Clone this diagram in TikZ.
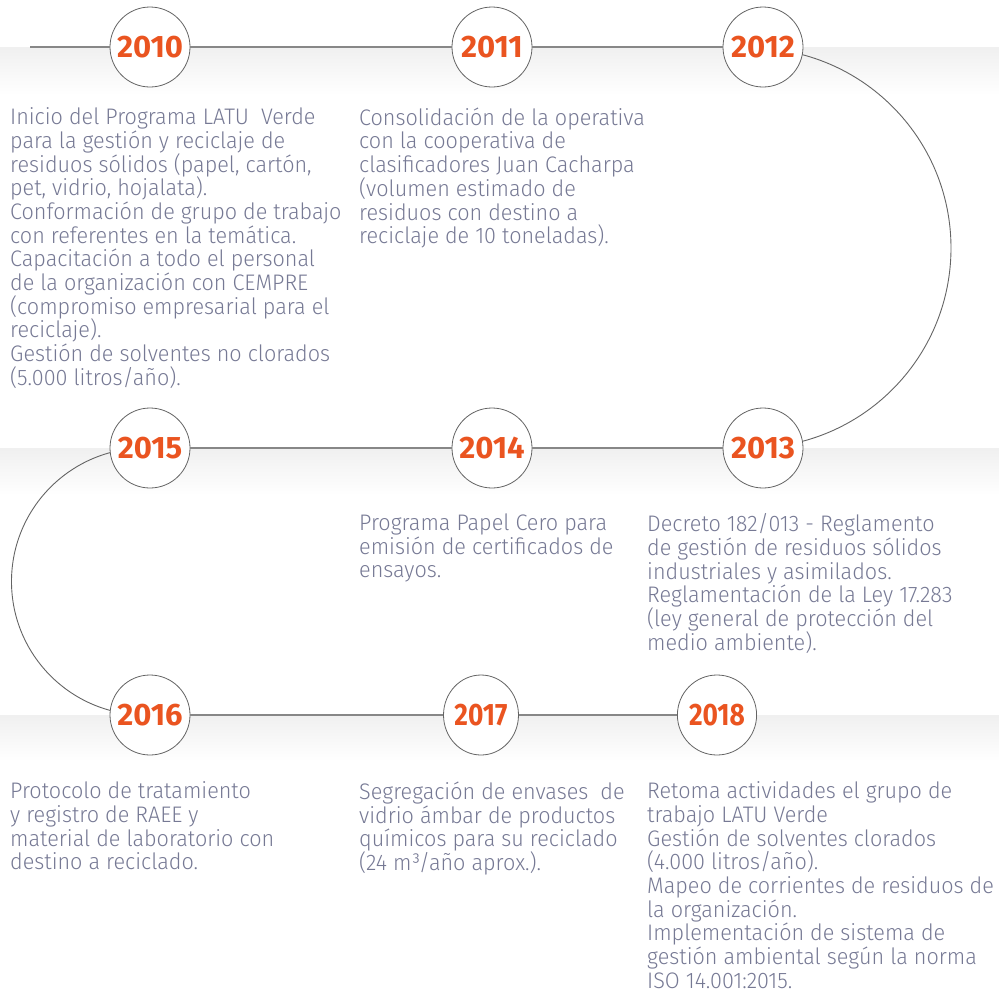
\documentclass[tikz,border=0pt]{standalone}
\usepackage{fontspec}
\setmainfont{Fira Sans}[UprightFont=* Light, FakeStretch=0.96]
\newfontfamily\yearfont{Fira Sans}[UprightFont=* Bold]
\usetikzlibrary{shapes.geometric,backgrounds}
\definecolor{yearorange}{RGB}{234,84,32}
\definecolor{txtgray}{RGB}{118,121,148}
\definecolor{linegray}{RGB}{135,135,135}
\definecolor{ringgray}{RGB}{100,100,100}
\begin{document}
\begin{tikzpicture}[x=1pt,y=-1pt,
    yearring/.style={circle, draw=ringgray, line width=0.8pt, fill=white, minimum size=80pt, inner sep=0pt, font=\yearfont\fontsize{31}{31}\selectfont, text=yearorange},
    yearoval/.style={yearring, ellipse, minimum width=70pt, minimum height=80pt},
    entry/.style={anchor=north west, inner sep=0pt, align=left, text=txtgray, font=\fontsize{22.5}{23.7}\selectfont},
    rowline/.style={draw=linegray, line width=1.3pt},
    arcline/.style={draw=ringgray, line width=0.9pt},
    band/.style={top color=black!6, bottom color=white}]
    \useasboundingbox (0,0) rectangle (999,991);

    \node[yearring] (y2010) at (150,47) {2010};
    \node[yearring] (y2011) at (492,47) {2011};
    \node[yearring] (y2012) at (763,47) {2012};
    \node[yearring] (y2013) at (763,448) {2013};
    \node[yearring] (y2014) at (492,448) {2014};
    \node[yearring] (y2015) at (150,448) {2015};
    \node[yearring] (y2016) at (150,715) {2016};
    \node[yearoval] (y2017) at (481,715) {\scalebox{0.85}[1]{2017}};
    \node[yearoval] (y2018) at (717,715) {\scalebox{0.85}[1]{2018}};

    \coordinate (start) at (30,47);
    \coordinate (arcR) at (751,48);
    \coordinate (arcL) at (145,448);

    \begin{scope}[on background layer]
        \fill[band] (0,47) rectangle (999,95);
        \fill[band] (0,448) rectangle (999,495);
        \fill[band] (0,715) rectangle (999,761);
        \draw[arcline] (arcR) arc[start angle=-90, end angle=90, radius=200];
        \draw[arcline] (arcL) arc[start angle=-90, end angle=-270, radius=133.5];
    \end{scope}

    \draw[rowline] (start) -- (y2010) -- (y2011) -- (y2012);
    \draw[rowline] (y2015) -- (y2014) -- (y2013);
    \draw[rowline] (y2016) -- (y2017) -- (y2018);

    \node[entry] (t2010) at (10,107.5) {Inicio del Programa LATU~ Verde\\ para la gestión y reciclaje de\\ residuos sólidos (papel, cartón,\\ pet, vidrio, hojalata).\\ Conformación de grupo de trabajo\\ con referentes en la temática.\\ Capacitación a todo el personal\\ de la organización con CEMPRE\\ (compromiso empresarial para el\\ reciclaje).\\ Gestión de solventes no clorados\\ (5.000 litros/año).};
    \node[entry] (t2011) at (359,107.5) {Consolidación de la operativa\\ con la cooperativa de\\ clasificadores Juan Cacharpa\\ (volumen estimado de\\ residuos con destino a\\ reciclaje de 10 toneladas).};
    \node[entry] (t2014) at (359,513.5) {Programa Papel Cero para\\ emisión de certificados de\\ ensayos.};
    \node[entry] (t2013) at (647,513.5) {Decreto 182/013 - Reglamento\\ de gestión de residuos sólidos\\ industriales y asimilados.\\ Reglamentación de la Ley 17.283\\ (ley general de protección del\\ medio ambiente).};
    \node[entry] (t2016) at (10,781.5) {Protocolo de tratamiento\\ y registro de RAEE y\\ material de laboratorio con\\ destino a reciclado.};
    \node[entry] (t2017) at (359,781.5) {Segregación de envases~ de\\ vidrio ámbar de productos\\ químicos para su reciclado\\ (24 m³/año aprox.).};
    \node[entry] (t2018) at (647,781.5) {Retoma actividades el grupo de\\ trabajo LATU Verde\\ Gestión de solventes clorados\\ (4.000 litros/año).\\ Mapeo de corrientes de residuos de\\ la organización.\\ Implementación de sistema de\\ gestión ambiental según la norma\\ ISO 14.001:2015.};
\end{tikzpicture}
\end{document}
